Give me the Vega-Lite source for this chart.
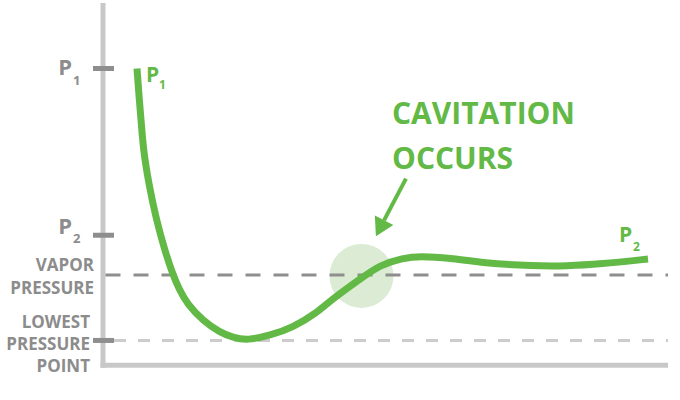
{
  "$schema": "https://vega.github.io/schema/vega-lite/v6.json",
  "width": 680,
  "height": 400,
  "padding": 0,
  "autosize": {"type": "fit", "contains": "padding"},
  "background": "white",
  "config": {"view": {"stroke": null}},
  "datasets": {
    "curve": [
      {"d": 34, "p": 299}, {"d": 36.5, "p": 265}, {"d": 38, "p": 248}, {"d": 40.5, "p": 215},
      {"d": 46, "p": 182}, {"d": 53, "p": 148}, {"d": 62, "p": 115}, {"d": 70, "p": 91},
      {"d": 76, "p": 77}, {"d": 84, "p": 62}, {"d": 100, "p": 45}, {"d": 117, "p": 33},
      {"d": 130, "p": 28}, {"d": 144, "p": 25}, {"d": 167, "p": 30}, {"d": 190, "p": 38},
      {"d": 214, "p": 53}, {"d": 227, "p": 65}, {"d": 260, "p": 89},
      {"d": 277, "p": 101}, {"d": 300, "p": 108}, {"d": 317, "p": 110}, {"d": 347, "p": 108},
      {"d": 380, "p": 103}, {"d": 430, "p": 100}, {"d": 464, "p": 100}, {"d": 497, "p": 102},
      {"d": 545, "p": 107}
    ],
    "axes": [
      {"x": 0, "x2": 0, "y": -2.5, "y2": 365},
      {"x": -2.5, "x2": 565, "y": 0, "y2": 0}
    ],
    "ticks": [
      {"x": -10, "x2": 11, "y": 299, "y2": 299},
      {"x": -10, "x2": 11, "y": 131, "y2": 131},
      {"x": -10, "x2": 11, "y": 25, "y2": 25}
    ],
    "vapor": [{"x": 2.5, "x2": 565, "y": 91, "y2": 91}],
    "lowest": [{"x": 11, "x2": 565, "y": 25, "y2": 25}],
    "arrow": [{"x": 303, "x2": 281, "y": 188, "y2": 146}],
    "arrowhead": [{"x": 277, "y": 138}],
    "zone": [{"x": 258.5, "y": 90}],
    "grayBig": [
      {"x": -31, "y": 292, "t": "P"},
      {"x": -31, "y": 132, "t": "P"}
    ],
    "graySub": [
      {"x": -30, "y": 282, "t": "1"},
      {"x": -30, "y": 123, "t": "2"}
    ],
    "grayLabels": [
      {"x": -9, "y": 95, "t": "VAPOR"},
      {"x": -9, "y": 72, "t": "PRESSURE"},
      {"x": -13, "y": 38, "t": "LOWEST"},
      {"x": -13, "y": 15, "t": "PRESSURE"},
      {"x": -13, "y": -7, "t": "POINT"}
    ],
    "greenBig": [
      {"x": 43, "y": 285, "t": "P"},
      {"x": 516, "y": 124, "t": "P"}
    ],
    "greenSub": [
      {"x": 56, "y": 278, "t": "1"},
      {"x": 530, "y": 115, "t": "2"}
    ],
    "callout": [
      {"x": 289, "y": 243, "t": "CAVITATION"},
      {"x": 289, "y": 198, "t": "OCCURS"}
    ]
  },
  "encoding": {
    "x": {"field": "x", "type": "quantitative", "scale": {"domain": [-103, 577], "nice": false, "zero": false}, "axis": null},
    "y": {"field": "y", "type": "quantitative", "scale": {"domain": [-35, 365], "nice": false, "zero": false}, "axis": null}
  },
  "layer": [
    {
      "data": {"name": "zone"},
      "mark": {"type": "point", "shape": "circle", "filled": true, "size": 4096, "color": "#dcecd4", "opacity": 1}
    },
    {
      "data": {"name": "axes"},
      "mark": {"type": "rule", "color": "#c8c8c8", "strokeWidth": 5, "strokeCap": "butt"},
      "encoding": {"x2": {"field": "x2"}, "y2": {"field": "y2"}}
    },
    {
      "data": {"name": "lowest"},
      "mark": {"type": "rule", "color": "#cccccc", "strokeWidth": 3, "strokeDash": [12, 12], "strokeCap": "butt"},
      "encoding": {"x2": {"field": "x2"}, "y2": {"field": "y2"}}
    },
    {
      "data": {"name": "vapor"},
      "mark": {"type": "rule", "color": "#8e8e8e", "strokeWidth": 3, "strokeDash": [15, 13], "strokeCap": "butt"},
      "encoding": {"x2": {"field": "x2"}, "y2": {"field": "y2"}}
    },
    {
      "data": {"name": "ticks"},
      "mark": {"type": "rule", "color": "#8e8e8e", "strokeWidth": 5, "strokeCap": "butt"},
      "encoding": {"x2": {"field": "x2"}, "y2": {"field": "y2"}}
    },
    {
      "data": {"name": "curve"},
      "mark": {"type": "line", "color": "#62b946", "strokeWidth": 7, "strokeCap": "butt", "strokeJoin": "round", "interpolate": "basis"},
      "encoding": {
        "x": {"field": "d", "type": "quantitative", "scale": {"domain": [-103, 577], "nice": false, "zero": false}, "axis": null},
        "y": {"field": "p", "type": "quantitative", "scale": {"domain": [-35, 365], "nice": false, "zero": false}, "axis": null},
        "order": {"field": "d", "type": "quantitative"}
      }
    },
    {
      "data": {"name": "arrow"},
      "mark": {"type": "rule", "color": "#62b946", "strokeWidth": 4, "strokeCap": "butt"},
      "encoding": {"x2": {"field": "x2"}, "y2": {"field": "y2"}}
    },
    {
      "data": {"name": "arrowhead"},
      "mark": {"type": "point", "shape": "triangle-down", "filled": true, "size": 430, "angle": 27, "color": "#62b946", "opacity": 1}
    },
    {
      "data": {"name": "grayBig"},
      "mark": {"type": "text", "font": "Open Sans", "fontWeight": "bold", "fontSize": 22, "color": "#8c8c8c", "align": "right", "baseline": "alphabetic"},
      "encoding": {"text": {"field": "t"}}
    },
    {
      "data": {"name": "graySub"},
      "mark": {"type": "text", "font": "Open Sans", "fontWeight": "bold", "fontSize": 13, "color": "#8c8c8c", "align": "left", "baseline": "alphabetic"},
      "encoding": {"text": {"field": "t"}}
    },
    {
      "data": {"name": "grayLabels"},
      "mark": {"type": "text", "font": "Open Sans", "fontWeight": "bold", "fontSize": 17, "color": "#8c8c8c", "align": "right", "baseline": "alphabetic"},
      "encoding": {"text": {"field": "t"}}
    },
    {
      "data": {"name": "greenBig"},
      "mark": {"type": "text", "font": "Open Sans", "fontWeight": "bold", "fontSize": 21, "color": "#62b946", "align": "left", "baseline": "alphabetic"},
      "encoding": {"text": {"field": "t"}}
    },
    {
      "data": {"name": "greenSub"},
      "mark": {"type": "text", "font": "Open Sans", "fontWeight": "bold", "fontSize": 12, "color": "#62b946", "align": "left", "baseline": "alphabetic"},
      "encoding": {"text": {"field": "t"}}
    },
    {
      "data": {"name": "callout"},
      "mark": {"type": "text", "font": "Open Sans", "fontWeight": "bold", "fontSize": 30, "color": "#62b946", "align": "left", "baseline": "alphabetic"},
      "encoding": {"text": {"field": "t"}}
    }
  ]
}
